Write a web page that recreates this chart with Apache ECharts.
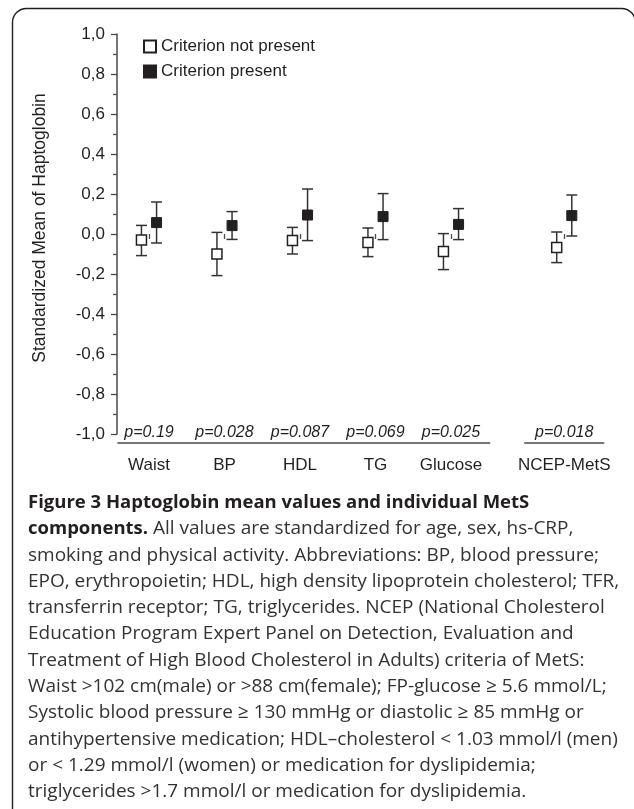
<!DOCTYPE html>
<html><head><meta charset="utf-8">
<script src="https://cdn.jsdelivr.net/npm/echarts@6/dist/echarts.min.js"></script>
<style>html,body{margin:0;padding:0;background:#fff}#c{width:634px;height:809px}</style>
</head><body><div id="c"></div>
<script>
// ---- data ----
const categories = ['Waist', 'BP', 'HDL', 'TG', 'Glucose', 'NCEP-MetS'];
const catPositions = [1, 2, 3, 4, 5, 6.5];
const pValues = ['p=0.19', 'p=0.028', 'p=0.087', 'p=0.069', 'p=0.025', 'p=0.018'];
const notPresentMean  = [-0.030, -0.100, -0.032, -0.042, -0.088, -0.067];
const notPresentUpper = [ 0.043,  0.008,  0.033,  0.030,  0.002,  0.010];
const notPresentLower = [-0.108, -0.208, -0.100, -0.113, -0.178, -0.143];
const presentMean  = [ 0.057,  0.042,  0.095,  0.087,  0.048,  0.092];
const presentUpper = [ 0.160,  0.112,  0.225,  0.202,  0.127,  0.195];
const presentLower = [-0.045, -0.027, -0.033, -0.028, -0.028, -0.010];
const seriesNames = ['Criterion not present', 'Criterion present'];
const yAxisName = 'Standardized Mean of Haptoglobin';
const yMin = -1.0, yMax = 1.0, yStep = 0.2;
const axisGroups = [[0, 4], [5, 5]]; // category index ranges sharing one axis segment
const captionLines = [
  [['b', 'Figure 3 Haptoglobin mean values and individual MetS']],
  [['b', 'components.'], ['n', ' All values are standardized for age, sex, hs-CRP,']],
  [['n', 'smoking and physical activity. Abbreviations: BP, blood pressure;']],
  [['n', 'EPO, erythropoietin; HDL, high density lipoprotein cholesterol; TFR,']],
  [['n', 'transferrin receptor; TG, triglycerides. NCEP (National Cholesterol']],
  [['n', 'Education Program Expert Panel on Detection, Evaluation and']],
  [['n', 'Treatment of High Blood Cholesterol in Adults) criteria of MetS:']],
  [['n', 'Waist >102 cm(male) or >88 cm(female); FP-glucose \u2265 5.6 mmol/L;']],
  [['n', 'Systolic blood pressure \u2265 130 mmHg or diastolic \u2265 85 mmHg or']],
  [['n', 'antihypertensive medication; HDL\u2013cholesterol < 1.03 mmol/l (men)']],
  [['n', 'or < 1.29 mmol/l (women) or medication for dyslipidemia;']],
  [['n', 'triglycerides >1.7 mmol/l or medication for dyslipidemia.']]
];

// ---- style ----
const INK = '#231f20';
const AXIS = '#4a4a4a';
const FONT = 'Liberation Sans, Arial, Helvetica, sans-serif';
const CAPFONT = '"Open Sans", sans-serif';
const pairOffset = 0.1;
const axisDrop = 9;

const chart = echarts.init(document.getElementById('c'), null, {renderer: 'canvas'});

function errRender(params, api) {
  const x = api.value(0), lo = api.value(1), hi = api.value(2);
  const a = api.coord([x, lo]), b = api.coord([x, hi]);
  const cap = 5.5;
  const st = {stroke: '#333', lineWidth: 1.5};
  return {type: 'group', children: [
    {type: 'line', shape: {x1: a[0], y1: a[1], x2: b[0], y2: b[1]}, style: st},
    {type: 'line', shape: {x1: a[0] - cap, y1: a[1], x2: a[0] + cap, y2: a[1]}, style: st},
    {type: 'line', shape: {x1: b[0] - cap, y1: b[1], x2: b[0] + cap, y2: b[1]}, style: st}
  ]};
}

const errNP = catPositions.map((p, i) => [p - pairOffset, notPresentLower[i], notPresentUpper[i]]);
const errP = catPositions.map((p, i) => [p + pairOffset, presentLower[i], presentUpper[i]]);
const ptsNP = catPositions.map((p, i) => [p - pairOffset, notPresentMean[i]]);
const ptsP = catPositions.map((p, i) => [p + pairOffset, presentMean[i]]);

const segData = axisGroups.map(g => [
  catPositions[g[0]] - (g[0] === g[1] ? 0.53 : 0.42),
  catPositions[g[1]] + (g[0] === g[1] ? 0.53 : 0.52),
  yMin]);

const pData = catPositions.map((p, i) => [p, yMin, i]);

const graphics = [
  {type: 'rect', shape: {x: 12.5, y: 8.5, width: 623, height: 900, r: 14},
   style: {fill: 'none', stroke: INK, lineWidth: 1.4}, silent: true}
];
captionLines.forEach((parts, i) => {
  graphics.push({
    type: 'text', left: 28, top: 493 + i * 26.3,
    style: {
      text: parts.map(p => '{' + p[0] + '|' + p[1] + '}').join(''),
      rich: {
        b: {fontFamily: CAPFONT, fontSize: 18.5, fontWeight: 'bold', fill: INK},
        n: {fontFamily: CAPFONT, fontSize: 19, fill: '#333'}
      }
    }
  });
});

chart.setOption({
  animation: false,
  backgroundColor: '#fff',
  grid: {left: 117, right: 32, top: 34, bottom: 375, containLabel: false},
  legend: {
    orient: 'vertical', left: 138, top: 33,
    itemWidth: 12, itemHeight: 12, itemGap: 8,
    data: seriesNames,
    textStyle: {fontFamily: FONT, fontSize: 17, color: INK}
  },
  xAxis: {
    type: 'value', min: 0.576, max: 7.0, offset: axisDrop,
    axisLine: {show: false},
    splitLine: {show: false},
    axisTick: {show: true, length: 5, customValues: catPositions, lineStyle: {color: AXIS, width: 1.3}},
    axisLabel: {
      customValues: catPositions, margin: 14,
      fontFamily: FONT, fontSize: 17, color: INK,
      formatter: v => { const i = catPositions.indexOf(v); return i >= 0 ? categories[i] : ''; }
    }
  },
  yAxis: {
    type: 'value', min: yMin, max: yMax, interval: yStep,
    name: yAxisName, nameLocation: 'middle', nameGap: 68, nameRotate: 90,
    nameTextStyle: {fontFamily: FONT, fontSize: 17.5, color: INK, padding: [0, 0, 0, 12]},
    axisLine: {show: true, lineStyle: {color: AXIS, width: 1.5}},
    axisTick: {show: true, length: 6, lineStyle: {color: AXIS, width: 1.3}},
    minorTick: {show: true, splitNumber: 2, length: 4, lineStyle: {color: AXIS, width: 1.3}},
    splitLine: {show: false},
    axisLabel: {
      margin: 12, fontFamily: FONT, fontSize: 17, color: INK,
      formatter: v => v.toFixed(1).replace('.', ',')
    }
  },
  graphic: graphics,
  series: [
    {type: 'custom', name: 'axisSegments', silent: true, data: segData,
     encode: {x: [0, 1], y: 2},
     renderItem: (params, api) => {
       const a = api.coord([api.value(0), api.value(2)]);
       const b = api.coord([api.value(1), api.value(2)]);
       return {type: 'line', shape: {x1: a[0], y1: a[1] + axisDrop, x2: b[0], y2: b[1] + axisDrop},
               style: {stroke: AXIS, lineWidth: 1.5}};
     }},
    {type: 'custom', name: 'pvals', silent: true, data: pData,
     encode: {x: 0, y: 1},
     renderItem: (params, api) => {
       const a = api.coord([api.value(0), api.value(1)]);
       return {type: 'text', x: a[0], y: a[1] - 1,
               style: {text: pValues[api.value(2)], align: 'center', verticalAlign: 'middle',
                       fontFamily: FONT, fontSize: 16, fontStyle: 'italic', fill: INK}};
     }},
    {type: 'custom', name: 'errNP', silent: true, data: errNP, encode: {x: 0, y: [1, 2]}, renderItem: errRender, z: 2},
    {type: 'custom', name: 'errP', silent: true, data: errP, encode: {x: 0, y: [1, 2]}, renderItem: errRender, z: 2},
    {type: 'scatter', name: seriesNames[0], data: ptsNP, symbol: 'rect', symbolSize: 10, z: 5,
     itemStyle: {color: '#fff', borderColor: INK, borderWidth: 1.5, opacity: 1}},
    {type: 'scatter', name: seriesNames[1], data: ptsP, symbol: 'rect', symbolSize: 10, z: 5,
     itemStyle: {color: INK, borderColor: INK, borderWidth: 1, opacity: 1}}
  ]
});
</script>
</body></html>
